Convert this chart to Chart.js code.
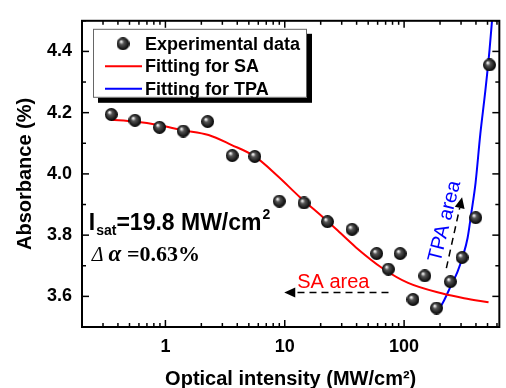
<!DOCTYPE html>
<html>
<head>
<meta charset="utf-8">
<script src="https://cdn.jsdelivr.net/npm/chart.js@4/dist/chart.umd.min.js"></script>
<style>
body{margin:0;background:#fff}
#wrap{width:506px;height:388px}
</style>
</head>
<body>
<div id="wrap"><canvas id="c"></canvas></div>
<script>
// measured points
const expX=[0.352,0.556,0.893,1.41,2.26,3.63,5.61,9.0,14.5,22.8,36.6,58.9,73.8,92.7,118.6,149,187,244,306,398,520]
const expY=[4.194,4.175,4.152,4.14,4.171,4.06,4.057,3.911,3.905,3.844,3.819,3.74,3.689,3.74,3.59,3.667,3.562,3.648,3.727,3.857,4.356]

// SA fit curve
const saX=[0.35,0.55,0.89,1.38,2.3,3.56,5.6,8.67,13.4,21.1,26.9,39.5,65.9,108,206,318,510]
const saY=[4.177,4.171,4.159,4.143,4.127,4.095,4.057,3.994,3.924,3.857,3.82,3.76,3.692,3.644,3.61,3.594,3.581]

// TPA fit curve
const tpaX=[190,215,247,280,310,340,365,397,435,479,520,545]
const tpaY=[3.549,3.585,3.635,3.68,3.73,3.79,3.87,3.971,4.13,4.27,4.406,4.5]

const xTicks=[0.2,0.3,0.4,0.5,0.6,0.7,0.8,0.9,1,2,3,4,5,6,7,8,9,10,20,30,40,50,60,70,80,90,100,200,300,400,500,600]
const xLabels=[1,10,100]
const yRange=[3.5,4.5]
const xRange=[0.2,628]

const pts=(xs,ys)=>xs.map((v,i)=>({x:v,y:ys[i]}))

function ball(r){
 const c=document.createElement("canvas")
 c.width=c.height=2*r
 const g=c.getContext("2d")
 const gr=g.createRadialGradient(r*0.7,r*0.65,r*0.08,r,r,r)
 gr.addColorStop(0,"#f4f4f4")
 gr.addColorStop(0.3,"#555")
 gr.addColorStop(1,"#000")
 g.fillStyle=gr
 g.beginPath();g.arc(r,r,r,0,Math.PI*2);g.fill()
 return c
}
const dot=ball(6.5)

const SANS="'Liberation Sans', Arial, sans-serif"
const SERIF="'Liberation Serif', 'Times New Roman', serif"

function line(ctx,x1,y1,x2,y2){ctx.beginPath();ctx.moveTo(x1,y1);ctx.lineTo(x2,y2);ctx.stroke()}

function arrow(ctx,x1,y1,x2,y2){
 const a=Math.atan2(y2-y1,x2-x1),hl=11,hw=5,c=Math.cos(a),s=Math.sin(a)
 ctx.setLineDash([7,5])
 line(ctx,x1,y1,x2-c*hl,y2-s*hl)
 ctx.setLineDash([])
 ctx.beginPath()
 ctx.moveTo(x2,y2)
 ctx.lineTo(x2-hl*c+hw*s,y2-hl*s-hw*c)
 ctx.lineTo(x2-hl*c-hw*s,y2-hl*s+hw*c)
 ctx.closePath();ctx.fill()
}

// frame with inward ticks on all four sides
const frame={id:"frame",afterDatasetsDraw(ch){
 const {ctx,chartArea:a,scales:{x,y}}=ch
 ctx.save()
 ctx.strokeStyle="#000"
 ctx.lineWidth=1.5
 x.ticks.forEach(t=>{
  const p=x.getPixelForValue(t.value),L=xLabels.includes(t.value)?7:4
  line(ctx,p,a.bottom,p,a.bottom-L)
  line(ctx,p,a.top,p,a.top+L)
 })
 y.ticks.forEach(t=>{
  const p=y.getPixelForValue(t.value),L=Math.round(t.value*10)%2===0?7:4
  line(ctx,a.left,p,a.left+L,p)
  line(ctx,a.right,p,a.right-L,p)
 })
 ctx.lineWidth=2
 ctx.strokeRect(a.left,a.top,a.right-a.left,a.bottom-a.top)
 ctx.restore()
}}

// legend box with drop shadow
const box={id:"box",afterDatasetsDraw(ch){
 const {ctx,chartArea:a}=ch
 const bx=a.left+11,by=a.top+8,bw=214,bh=69
 ctx.save()
 ctx.fillStyle="#000";ctx.fillRect(bx+5,by+5,bw,bh)
 ctx.fillStyle="#fff";ctx.fillRect(bx,by,bw,bh)
 ctx.strokeStyle="#666";ctx.lineWidth=1;ctx.strokeRect(bx+0.5,by+0.5,bw-1,bh-1)
 ctx.font="bold 18px "+SANS
 ctx.textBaseline="middle"
 ch.data.datasets.forEach((d,i)=>{
  const cy=by+15+i*22.5
  if(d.showLine){
   ctx.strokeStyle=d.borderColor;ctx.lineWidth=2
   line(ctx,bx+12,cy,bx+49,cy)
  }else{
   ctx.drawImage(dot,bx+30-6.5,cy-6.5)
  }
  ctx.fillStyle="#000"
  ctx.fillText(d.label,bx+52,cy+1)
 })
 ctx.restore()
}}

// text notes and arrows, placed in data units
const notes={id:"notes",afterDatasetsDraw(ch){
 const {ctx,scales:{x,y}}=ch
 const X=v=>x.getPixelForValue(v),Y=v=>y.getPixelForValue(v)
 ctx.save()
 ctx.fillStyle="#000"
 ctx.textBaseline="alphabetic"
 // Isat
 let px=X(0.228),py=Y(3.816)
 ctx.font="bold 23px "+SANS
 ctx.fillText("I",px,py);px+=ctx.measureText("I").width+1
 ctx.font="bold 14px "+SANS
 ctx.fillText("sat",px,py+5);px+=ctx.measureText("sat").width
 ctx.font="bold 23px "+SANS
 ctx.fillText("=19.8 MW/cm",px,py);px+=ctx.measureText("=19.8 MW/cm").width+1
 ctx.font="bold 14px "+SANS
 ctx.fillText("2",px,py-11)
 // delta alpha
 px=X(0.241);py=Y(3.717)
 ctx.font="italic 20px "+SERIF
 ctx.fillText("\u0394",px,py);px+=ctx.measureText("\u0394 ").width
 ctx.font="italic bold 23px "+SERIF
 ctx.fillText("\u03b1",px,py);px+=ctx.measureText("\u03b1 ").width
 ctx.font="bold 22px "+SERIF
 ctx.fillText("=0.63%",px,py)
 // SA area
 ctx.fillStyle="#f00"
 ctx.font="20px "+SANS
 ctx.fillText("SA area",X(12.7),Y(3.629))
 ctx.fillStyle="#000";ctx.strokeStyle="#000";ctx.lineWidth=1.5
 arrow(ctx,X(74),Y(3.613),X(9.9),Y(3.613))
 arrow(ctx,X(226),Y(3.692),X(306),Y(3.924))
 // TPA area
 ctx.save()
 ctx.translate(X(220),Y(3.845))
 ctx.rotate(-76*Math.PI/180)
 ctx.fillStyle="#00f"
 ctx.font="20px "+SANS
 ctx.textAlign="center";ctx.textBaseline="middle"
 ctx.fillText("TPA area",0,0)
 ctx.restore()
 ctx.restore()
}}

Chart.defaults.color="#000"
Chart.defaults.font.family=SANS

new Chart(document.getElementById("c"),{
 type:"scatter",
 data:{
  datasets:[{
   label:"Experimental data",
   data:pts(expX,expY),
   pointStyle:dot,
   order:0
  },{
   label:"Fitting for SA",
   data:pts(saX,saY),
   showLine:true,
   borderColor:"#ff0000",
   borderWidth:2,
   pointRadius:0,
   cubicInterpolationMode:"monotone",
   order:1
  },{
   label:"Fitting for TPA",
   data:pts(tpaX,tpaY),
   showLine:true,
   borderColor:"#0000ff",
   borderWidth:2,
   pointRadius:0,
   cubicInterpolationMode:"monotone",
   order:2
  }]
 },
 options:{
  responsive:true,
  maintainAspectRatio:false,
  animation:false,
  layout:{padding:{top:10,right:0,left:0,bottom:0}},
  plugins:{legend:{display:false},tooltip:{enabled:false}},
  scales:{
   x:{
    type:"logarithmic",
    min:xRange[0],max:xRange[1],
    afterBuildTicks:s=>{s.ticks=xTicks.map(v=>({value:v}))},
    afterFit:s=>{s.height=61},
    grid:{display:false,drawTicks:false},
    border:{display:false},
    ticks:{
     autoSkip:false,maxRotation:0,padding:9,
     font:{size:18,weight:"bold"},
     callback:v=>xLabels.includes(v)?String(v):""
    },
    title:{display:true,text:"Optical intensity (MW/cm\u00b2)",font:{size:20,weight:"bold",lineHeight:1},padding:{top:0,bottom:-1}}
   },
   y:{
    min:yRange[0],max:yRange[1],
    afterFit:s=>{s.width=82},
    grid:{display:false,drawTicks:false},
    border:{display:false},
    ticks:{
     stepSize:0.1,padding:10,
     font:{size:18,weight:"bold"},
     callback:v=>Math.round(v*10)%2===0?v.toFixed(1):""
    },
    title:{display:true,text:"Absorbance (%)",font:{size:20,weight:"bold",lineHeight:1},padding:{top:15,bottom:0}}
   }
  }
 },
 plugins:[frame,box,notes]
})
</script>
</body>
</html>
